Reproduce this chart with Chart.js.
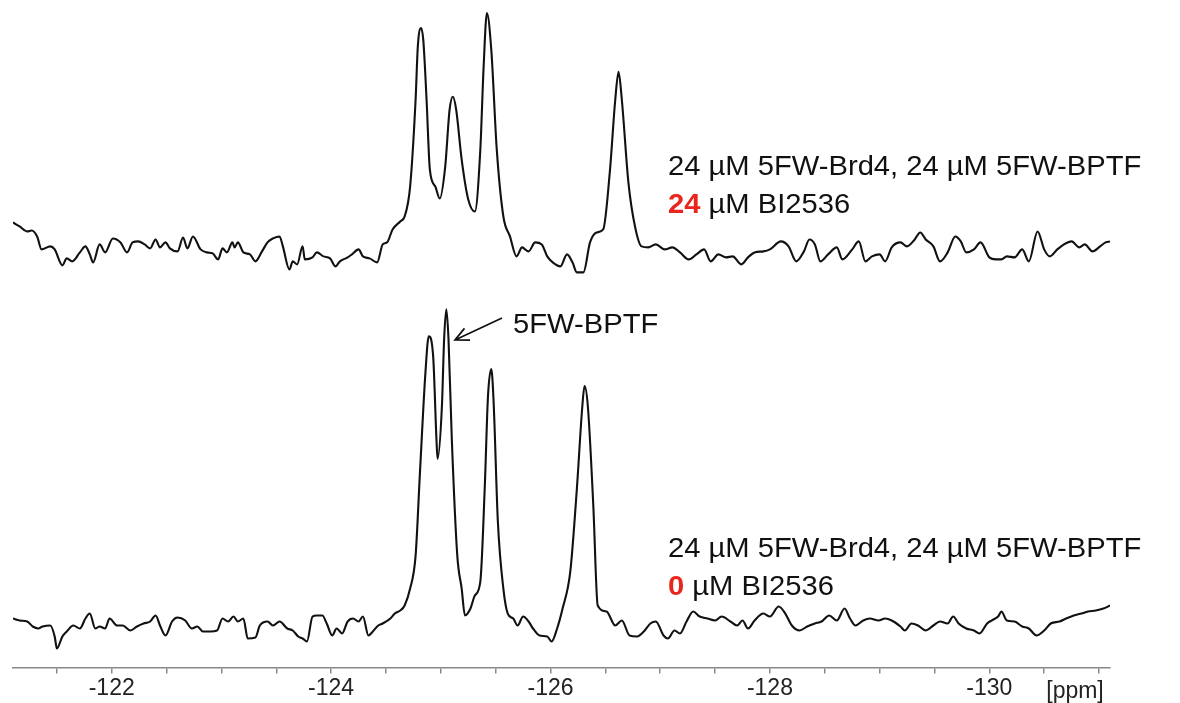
<!DOCTYPE html>
<html>
<head>
<meta charset="utf-8">
<script src="https://cdn.jsdelivr.net/npm/chart.js@4.4.1/dist/chart.umd.min.js"></script>
<style>
  html, body { margin: 0; padding: 0; background: #fff; }
  #wrap { width: 1180px; height: 703px; }
</style>
</head>
<body>
<div id="wrap"><canvas id="nmrChart" width="1180" height="703"></canvas></div>
<script>
// 24 uM BI2536 spectrum (upper trace)
var topPpm = [-121.10,-121.16,-121.23,-121.27,-121.32,-121.36,-121.44,-121.48,-121.55,-121.59,-121.64,-121.71,-121.76,-121.80,-121.83,-121.89,-121.94,
  -122.01,-122.08,-122.14,-122.19,-122.24,-122.30,-122.35,-122.40,-122.44,-122.49,-122.53,-122.60,-122.65,-122.69,-122.74,-122.81,-122.87,-122.92,-122.97,
  -123.01,-123.05,-123.10,-123.12,-123.15,-123.20,-123.26,-123.31,-123.37,-123.42,-123.47,-123.53,-123.56,-123.62,-123.65,-123.69,-123.74,-123.76,-123.83,-123.87,-123.93,-123.99,
  -124.04,-124.08,-124.15,-124.19,-124.25,-124.29,-124.35,-124.42,-124.47,-124.51,-124.56,-124.63,-124.67,-124.72,-124.77,-124.79,-124.82,-124.84,-124.87,-124.90,-124.95,-124.99,
  -125.04,-125.08,-125.11,-125.14,-125.19,-125.25,-125.31,-125.36,-125.39,-125.42,-125.46,-125.51,-125.57,-125.63,-125.69,-125.74,-125.80,-125.86,-125.92,-125.97,
  -126.02,-126.09,-126.15,-126.20,-126.24,-126.30,-126.36,-126.42,-126.48,-126.54,-126.59,-126.62,-126.65,-126.71,-126.77,-126.83,-126.89,-126.96,
  -127.04,-127.11,-127.18,-127.26,-127.33,-127.40,-127.46,-127.53,-127.60,-127.66,-127.74,-127.80,-127.86,-127.94,
  -128.00,-128.10,-128.17,-128.24,-128.31,-128.36,-128.41,-128.46,-128.53,-128.61,-128.66,-128.75,-128.81,-128.87,-128.93,
  -129.00,-129.05,-129.11,-129.19,-129.25,-129.32,-129.37,-129.42,-129.49,-129.55,-129.62,-129.69,-129.74,-129.79,-129.86,-129.92,
  -130.00,-130.06,-130.11,-130.16,-130.23,-130.30,-130.36,-130.44,-130.50,-130.55,-130.62,-130.68,-130.75,-130.82,-130.87,-130.94,-131.01,-131.06,-131.10];
var topInt = [32,28,23,24,18,5,8,5,-11,-4,-7,2,8,0,-8,10,2,
  16,12,2,12,13,10,6,15,7,12,6,3,17,6,18,5,2,1,-5,
  6,2,12,7,12,2,0,-7,3,12,16,18,8,-15,-7,-10,8,-5,-3,2,-2,-4,
  -12,-7,-3,0,5,-2,-4,-8,10,12,25,33,38,68,155,208,227,215,155,85,68,56,
  88,145,158,145,95,55,43,105,188,242,205,105,38,18,-2,7,3,12,10,-2,
  -8,-12,0,-8,-18,-18,12,22,25,82,155,183,155,72,28,8,7,10,
  5,7,2,-5,0,5,-7,0,-3,-2,-10,-3,2,3,
  5,13,8,-7,3,15,10,-7,0,7,-5,5,13,-7,-2,
  0,-7,7,12,8,15,22,15,8,-7,2,18,13,2,5,12,
  -3,-5,-5,-2,-3,5,-7,23,5,-2,5,10,13,7,10,3,8,12,13];

// 0 uM BI2536 spectrum (lower trace)
var botPpm = [-121.10,-121.16,-121.23,-121.28,-121.33,-121.37,-121.44,-121.48,-121.50,-121.55,-121.59,-121.65,-121.71,-121.76,-121.80,-121.85,-121.89,-121.94,-121.98,
  -122.05,-122.10,-122.17,-122.23,-122.29,-122.35,-122.40,-122.44,-122.49,-122.55,-122.60,-122.67,-122.73,-122.78,-122.83,-122.90,-122.96,
  -123.01,-123.06,-123.11,-123.15,-123.20,-123.24,-123.31,-123.35,-123.42,-123.47,-123.53,-123.60,-123.65,-123.70,-123.74,-123.78,-123.83,-123.87,-123.92,-123.96,
  -124.01,-124.05,-124.10,-124.15,-124.20,-124.25,-124.29,-124.34,-124.38,-124.43,-124.47,-124.54,-124.58,-124.63,-124.67,-124.72,-124.77,-124.81,-124.86,-124.89,-124.93,-124.96,-124.97,
  -125.01,-125.03,-125.05,-125.07,-125.10,-125.15,-125.19,-125.22,-125.27,-125.31,-125.36,-125.40,-125.43,-125.46,-125.48,-125.52,-125.57,-125.61,-125.66,-125.70,-125.75,-125.80,-125.84,-125.90,-125.97,
  -126.01,-126.06,-126.11,-126.18,-126.24,-126.29,-126.31,-126.34,-126.39,-126.43,-126.51,-126.59,-126.65,-126.72,-126.79,-126.85,-126.91,-126.96,
  -127.03,-127.07,-127.13,-127.18,-127.24,-127.30,-127.36,-127.43,-127.50,-127.56,-127.64,-127.70,-127.75,-127.80,-127.86,-127.94,
  -128.00,-128.08,-128.14,-128.20,-128.27,-128.34,-128.41,-128.47,-128.54,-128.61,-128.68,-128.73,-128.78,-128.85,-128.91,-128.99,
  -129.05,-129.11,-129.19,-129.23,-129.29,-129.35,-129.42,-129.49,-129.55,-129.62,-129.67,-129.72,-129.79,-129.86,-129.91,-129.98,
  -130.02,-130.08,-130.11,-130.16,-130.23,-130.30,-130.36,-130.43,-130.50,-130.56,-130.64,-130.70,-130.77,-130.84,-130.90,-130.97,-131.04,-131.10];
var botInt = [10,8,7,2,0,2,3,-8,-20,-8,-3,3,0,10,15,0,2,0,10,
  3,3,-2,2,5,7,13,3,-7,7,11,8,0,2,-3,-3,-2,
  10,7,12,7,10,-10,-9,3,7,3,7,0,-2,-8,-10,-13,12,13,13,5,
  -7,0,-5,7,10,7,12,-7,-3,3,5,10,15,18,23,40,73,157,257,293,273,190,170,
  223,290,320,290,190,73,40,13,20,33,47,140,233,260,230,107,40,15,10,3,12,7,0,-7,-8,
  -13,0,20,57,140,223,243,223,123,23,17,3,8,-7,-8,-3,5,7,
  -7,-10,-2,-5,7,17,12,10,8,12,7,3,8,0,8,15,
  12,22,15,3,-2,2,5,7,13,8,20,10,3,8,10,8,
  10,8,2,-2,5,3,-2,3,7,5,12,5,0,-2,-5,5,
  8,12,17,8,7,2,0,-7,-2,5,7,10,13,15,17,18,20,23];

var labelledTicks = [-122, -124, -126, -128, -130];
var axisMin = -131.1;
var axisMax = -121.1;

// vertical stacking of the two spectra
var topOffset = 414;
var botOffset = 39;

var tickValues = [];
for (var t = -131; t <= -121.5; t += 0.5) tickValues.push(t);

var textPlugin = {
  id: 'nmrText',
  afterDraw: function(chart) {
    var ctx = chart.ctx;
    var font = '27px "Liberation Sans", Arial, sans-serif';
    var bold = 'bold 27px "Liberation Sans", Arial, sans-serif';

    function rich(x, y, parts) {
      ctx.save();
      ctx.translate(x, y);
      ctx.scale(1.08, 1);
      ctx.textBaseline = 'alphabetic';
      var cx = 0;
      parts.forEach(function(p) {
        ctx.font = p.bold ? bold : font;
        ctx.fillStyle = p.color || '#111';
        ctx.fillText(p.text, cx, 0);
        cx += ctx.measureText(p.text).width;
      });
      ctx.restore();
    }

    rich(668, 175, [{ text: '24 \u00b5M 5FW-Brd4, 24 \u00b5M 5FW-BPTF' }]);
    rich(668, 213, [{ text: '24', bold: true, color: '#e8261e' }, { text: ' \u00b5M BI2536' }]);
    rich(668, 557, [{ text: '24 \u00b5M 5FW-Brd4, 24 \u00b5M 5FW-BPTF' }]);
    rich(668, 595, [{ text: '0', bold: true, color: '#e8261e' }, { text: ' \u00b5M BI2536' }]);
    rich(513, 333, [{ text: '5FW-BPTF' }]);

    // arrow to the 5FW-BPTF peak
    var tipX = 455, tipY = 340, tailX = 502, tailY = 318;
    var ang = Math.atan2(tipY - tailY, tipX - tailX);
    ctx.save();
    ctx.strokeStyle = '#111';
    ctx.lineWidth = 1.7;
    ctx.beginPath();
    ctx.moveTo(tailX, tailY);
    ctx.lineTo(tipX, tipY);
    ctx.moveTo(tipX - 15 * Math.cos(ang - 0.45), tipY - 15 * Math.sin(ang - 0.45));
    ctx.lineTo(tipX, tipY);
    ctx.lineTo(tipX - 15 * Math.cos(ang + 0.45), tipY - 15 * Math.sin(ang + 0.45));
    ctx.stroke();
    ctx.restore();

    // unit label at the end of the axis
    ctx.save();
    ctx.font = '23px "Liberation Sans", Arial, sans-serif';
    ctx.fillStyle = '#222';
    ctx.textAlign = 'center';
    ctx.textBaseline = 'alphabetic';
    ctx.fillText('[ppm]', 1075, 698);
    ctx.restore();
  }
};

var ctx = document.getElementById('nmrChart').getContext('2d');
var nmrChart = new Chart(ctx, {
  type: 'line',
  data: {
    datasets: [{
      label: '24 uM BI2536',
      data: topPpm.map(function(x, i) { return { x: x, y: topInt[i] + topOffset }; }),
      borderColor: '#111',
      borderWidth: 2.1,
      pointRadius: 0,
      cubicInterpolationMode: 'monotone',
      fill: false
    }, {
      label: '0 uM BI2536',
      data: botPpm.map(function(x, i) { return { x: x, y: botInt[i] + botOffset }; }),
      borderColor: '#111',
      borderWidth: 2.1,
      pointRadius: 0,
      cubicInterpolationMode: 'monotone',
      fill: false
    }]
  },
  options: {
    responsive: false,
    animation: false,
    devicePixelRatio: 1,
    layout: { padding: { left: 13, right: 70, top: 0, bottom: 0 } },
    plugins: { legend: { display: false }, tooltip: { enabled: false } },
    scales: {
      x: {
        type: 'linear',
        reverse: true,
        min: axisMin,
        max: axisMax,
        afterBuildTicks: function(scale) {
          scale.ticks = tickValues.map(function(v) { return { value: v }; });
        },
        ticks: {
          autoSkip: false,
          maxRotation: 0,
          padding: 1,
          color: '#222',
          font: { family: '"Liberation Sans", Arial, sans-serif', size: 23 },
          callback: function(value) {
            return labelledTicks.indexOf(value) >= 0 ? String(value) : '';
          }
        },
        grid: { drawOnChartArea: false, drawTicks: true, tickLength: 6, color: '#888', lineWidth: 1.5 },
        border: { display: true, color: '#888', width: 1.5 }
      },
      y: { display: false, min: 0, max: 669 }
    }
  },
  plugins: [textPlugin]
});
</script>
</body>
</html>
